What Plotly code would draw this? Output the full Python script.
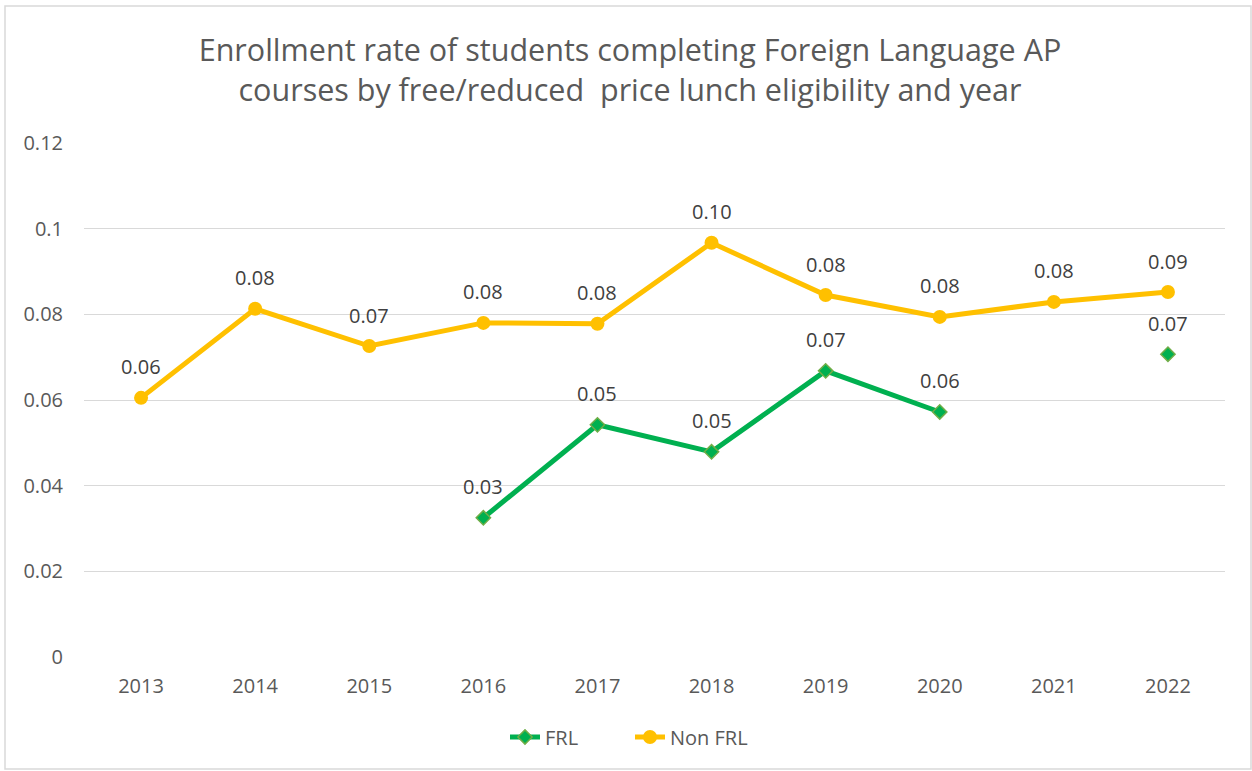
import plotly.graph_objects as go

years = ["2013", "2014", "2015", "2016", "2017", "2018", "2019", "2020", "2021", "2022"]
frl = [None, None, None, 0.0325, 0.0542, 0.0479, 0.0668, 0.0572, None, 0.0707]
non_frl = [0.0605, 0.0813, 0.0726, 0.0780, 0.0778, 0.0967, 0.0845, 0.0794, 0.0829, 0.0852]
title_lines = ["Enrollment rate of students completing Foreign Language AP",
               "courses by free/reduced  price lunch eligibility and year"]

FONT = "Open Sans"
GRAY = "#595959"
LABEL = "#404040"

fig = go.Figure()
fig.add_trace(go.Scatter(
    x=years, y=frl, name="FRL", mode="lines+markers",
    line=dict(color="#00B050", width=5),
    marker=dict(symbol="diamond", size=11, color="#00B050", line=dict(color="#70AD47", width=1.5)),
    connectgaps=False,
))
fig.add_trace(go.Scatter(
    x=years, y=non_frl, name="Non FRL", mode="lines+markers",
    line=dict(color="#FFC000", width=5),
    marker=dict(symbol="circle", size=14, color="#FFC000"),
))

annotations = []
for series in (frl, non_frl):
    for i, v in enumerate(series):
        if v is None:
            continue
        annotations.append(dict(x=i, y=v, xref="x", yref="y", text=f"{v:.2f}",
                                showarrow=False, yshift=31, yanchor="middle",
                                font=dict(family=FONT, size=20, color=LABEL)))

W, H = 1252, 771
L, R, T, B = 84, 27, 143, 114
pw, ph = W - L - R, H - T - B

def px(xp):
    return (xp - L) / pw

def py(yp):
    return (H - B - yp) / ph

fig.update_layout(
    width=W, height=H,
    margin=dict(l=L, r=R, t=T, b=B),
    paper_bgcolor="white", plot_bgcolor="white",
    font=dict(family=FONT, color=GRAY, size=20),
    title=dict(text="<br>".join(title_lines), x=px(630), xanchor="center",
               xref="paper", y=1 - 61 / H, yanchor="middle",
               font=dict(family=FONT, size=30.5, color=GRAY)),
    showlegend=True,
    legend=dict(orientation="h", x=px(630), xanchor="center", y=py(737), yanchor="middle",
                font=dict(family=FONT, size=20, color=GRAY),
                entrywidth=80, traceorder="normal"),
    xaxis=dict(type="category", range=[-0.5, 9.5], showgrid=False, showline=False, zeroline=False,
               tickfont=dict(family=FONT, size=20, color=GRAY), ticklabelstandoff=15),
    yaxis=dict(range=[0, 0.12], dtick=0.02, showgrid=True, gridcolor="#D9D9D9", gridwidth=1,
               zeroline=False, showline=False,
               tickfont=dict(family=FONT, size=20, color=GRAY), ticklabelstandoff=20),
    annotations=annotations,
    shapes=[dict(type="rect", xref="paper", yref="paper",
                 x0=px(5), x1=px(1251), y0=py(769), y1=py(6),
                 line=dict(color="#D9D9D9", width=1.5), fillcolor="rgba(0,0,0,0)", layer="below")],
)

fig.write_html("out.html", config={"displayModeBar": False},
               post_script="document.body.style.margin='0';document.body.style.overflow='hidden';")
